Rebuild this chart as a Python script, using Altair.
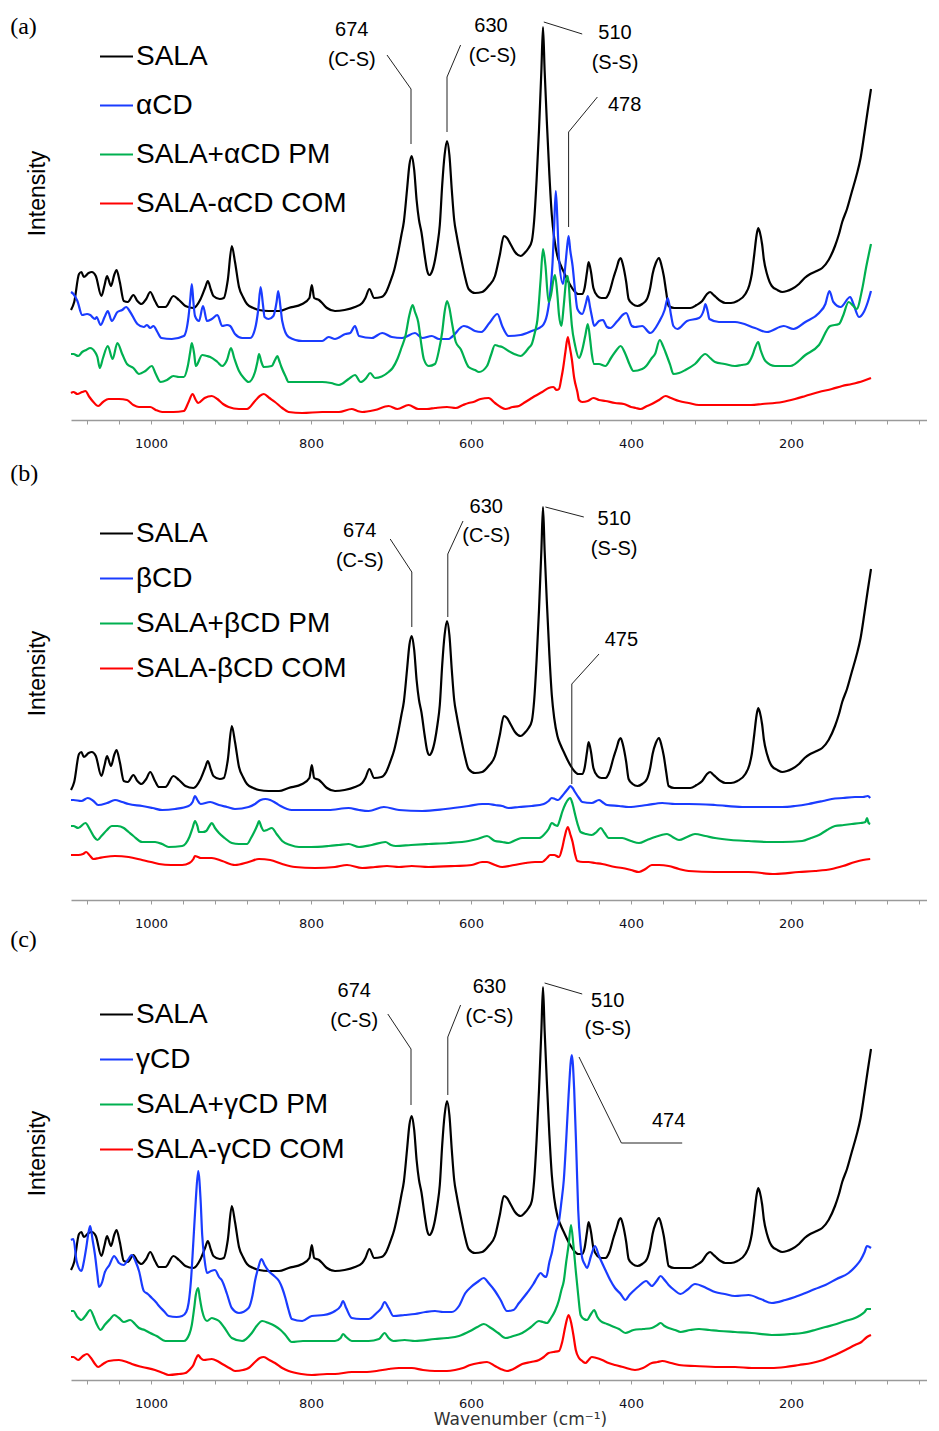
import altair as alt
import pandas as pd

# ---------------- data (wavenumber cm-1, intensity a.u.) ----------------
SALA = [(1100,110),(1096,118),(1090,146),(1087,148),(1084,143),(1078,147),(1074,148),(1069,144),(1062,124),(1058,135),
        (1055,144),(1050,134),(1046,145),(1043,150),(1039,138),(1034,119),(1029,118),(1022,125),(1017,119),(1012,116),
        (1006,121),(1001,128),(995,119),(990,113),(982,113),(972,124),(965,120),(957,114),(947,112),(938,121),(932,133),
        (929,139),(925,130),(922,124),(914,121),(909,122),(904,140),(899,174),(895,158),(890,133),(885,123),(880,116),
        (872,112),(865,110),(853,109),(840,109),(828,112),(811,116),(802,122),(799,135),(796,122),(790,120),(785,116),
        (780,112),(770,109),(758,110),(745,113),(736,117),(732,122),(727,131),(721,122),(712,123),(706,128),(701,138),
        (696,150),(691,168),(687,185),(684,198),(680,230),(677,255),(674,264),(671,250),(668,220),(665,200),(662,188),
        (658,165),(655,150),(652,145),(649,148),(645,160),(642,175),(639,195),(636,235),(633,265),(630,279),(627,265),
        (624,230),(621,200),(618,185),(612,160),(608,145),(603,131),(595,127),(586,128),(578,134),(570,144),(564,165),
        (559,184),(555,182),(550,175),(545,168),(538,164),(533,167),(528,172),(524,179),(521,200),(518,240),(515,290),
        (512,350),(510,393),(508,350),(505,295),(502,245),(499,205),(496,182),(492,164),(488,155),(484,148),(476,135),
        (471,129),(466,126),(461,126),(458,132),(455,148),(453,158),(450,148),(447,132),(442,124),(437,122),(432,122),
        (427,128),(422,142),(418,152),(415,160),(413,162),(410,155),(406,138),(403,121),(398,116),(392,114),(386,116),
        (380,121),(376,132),(373,146),(369,157),(365,162),(362,155),(359,144),(356,128),(353,114),(346,112),(340,112),
        (326,112),(318,115),(311,119),(305,126),(301,128),(298,126),(294,123),(288,119),(282,117),(275,117),(267,119),
        (257,126),(252,135),(249,146),(246,165),(243,185),(241,192),(239,188),(236,175),(234,161),(230,146),(224,134),
        (217,130),(211,128),(205,129),(199,131),(190,136),(183,142),(176,146),(168,149),(161,152),(153,160),(145,174),
        (140,186),(136,198),(130,211),(124,228),(118,245),(113,262),(108,288),(104,310),(100,331)]

ACD = [(1100,128),(1097,126),(1092,119),(1086,105),(1080,106),(1076,105),(1070,101),(1068,103),(1063,95),(1058,103),
       (1054,109),(1049,99),(1042,108),(1036,110),(1031,113),(1026,108),(1017,96),(1009,93),(1005,95),(1001,92),(997,94),
       (992,88),(987,82),(974,81),(959,84),(953,104),(951,120),(949,136),(947,118),(945,104),(940,99),(935,114),(930,99),
       (924,101),(917,105),(911,94),(905,95),(901,94),(895,86),(886,82),(876,82),(870,91),(866,110),(863,133),(860,115),
       (858,103),(853,101),(847,104),(843,118),(841,129),(838,112),(836,99),(828,83),(811,79),(786,79),(778,83),(770,81),
       (757,86),(751,87),(745,94),(740,84),(724,82),(711,87),(699,83),(686,82),(670,87),(661,82),(649,84),(640,81),
       (628,81),(624,83),(609,94),(604,93),(595,89),(587,88),(577,97),(567,106),(561,94),(553,84),(538,85),(524,89),
       (511,94),(505,105),(503,114),(500,135),(498,158),(496,195),(494,229),(492,200),(490,161),(485,136),(482,155),
       (480,172),(478,184),(476,170),(473,154),(470,130),(467,111),(461,106),(456,118),(454,124),(451,112),(449,104),
       (446,94),(440,99),(435,100),(430,93),(426,92),(417,99),(409,106),(406,107),(399,94),(395,93),(386,94),(376,87),
       (365,98),(358,110),(354,122),(350,105),(347,94),(342,91),(330,99),(315,102),(309,110),(307,116),(304,108),
       (302,101),(290,98),(270,98),(245,92),(230,88),(209,94),(197,91),(182,98),(165,107),(157,116),(152,129),(147,118),
       (138,113),(126,123),(122,116),(115,103),(109,108),(104,118),(100,129)]

APM = [(1100,66),(1097,66),(1091,64),(1086,68),(1081,70),(1076,72),(1070,68),(1067,63),(1064,52),(1060,62),(1054,74),
       (1048,61),(1042,77),(1036,66),(1030,56),(1022,52),(1015,46),(1007,49),(999,54),(994,46),(988,38),(980,40),(972,44),
       (965,43),(959,43),(954,54),(951,68),(949,77),(946,66),(944,54),(936,65),(930,64),(926,63),(917,58),(911,54),
       (905,60),(900,72),(896,62),(890,49),(884,42),(878,38),(870,48),(867,58),(865,66),(862,58),(859,53),(849,54),
       (845,60),(842,64),(840,60),(837,53),(832,44),(828,38),(811,38),(786,38),(775,37),(765,35),(753,41),(745,45),
       (738,38),(731,42),(726,47),(720,42),(703,48),(698,52),(692,61),(687,72),(682,84),(677,105),(673,115),(670,108),
       (666,98),(662,75),(659,61),(653,54),(645,56),(640,70),(636,88),(633,108),(630,119),(627,112),(624,98),(619,78),
       (613,71),(603,53),(595,50),(590,48),(580,54),(575,65),(570,75),(566,74),(561,73),(553,69),(546,66),(538,64),
       (533,67),(528,72),(524,76),(520,88),(517,100),(513,140),(510,171),(507,155),(503,118),(500,125),(497,140),
       (495,145),(492,125),(490,105),(487,94),(484,115),(481,140),(479,144),(476,115),(474,95),(470,75),(465,62),
       (461,70),(457,85),(454,96),(451,80),(449,66),(446,56),(440,56),(432,54),(425,62),(418,70),(413,74),(407,66),
       (402,56),(397,49),(386,51),(381,54),(374,62),(370,66),(364,80),(360,74),(357,68),(351,55),(347,46),(340,47),
       (332,50),(320,56),(307,66),(301,62),(295,58),(283,56),(270,54),(262,55),(255,56),(248,65),(245,72),(241,78),
       (238,70),(232,59),(220,54),(201,54),(182,65),(165,75),(151,94),(140,96),(135,104),(128,118),(122,114),(118,111),
       (111,131),(106,153),(100,176)]

ACOM = [(1100,27),(1097,28),(1092,26),(1086,28),(1082,29),(1077,23),(1072,18),(1066,14),(1060,18),(1053,21),(1040,21),
        (1030,20),(1022,15),(1015,13),(1001,13),(994,10),(986,8),(972,8),(959,9),(953,18),(948,26),(944,20),(941,17),
        (933,22),(924,24),(917,21),(910,16),(903,13),(890,11),(880,11),(870,19),(864,24),(859,26),(852,22),(845,18),
        (836,12),(828,8),(811,7),(786,8),(765,8),(749,11),(742,9),(736,8),(720,10),(703,14),(692,11),(678,15),(666,11),
        (655,11),(645,12),(630,13),(619,12),(610,15),(603,17),(597,18),(588,21),(578,22),(570,17),(563,13),(557,11),
        (548,13),(540,14),(532,18),(526,21),(520,24),(511,28),(503,32),(497,33),(493,30),(490,31),(487,42),(485,51),
        (482,68),(479,83),(477,75),(474,61),(471,42),(467,28),(465,20),(461,18),(454,19),(447,22),(440,20),(432,19),
        (420,17),(409,16),(400,13),(394,12),(388,11),(380,14),(374,16),(365,20),(357,24),(350,22),(340,19),(328,17),
        (315,15),(300,15),(274,15),(250,15),(236,16),(211,18),(195,21),(182,24),(165,28),(149,31),(136,34),(124,36),
        (110,39),(100,42)]

BCD = [(1100,100),(1097,100),(1087,99),(1079,102),(1072,99),(1066,95),(1055,97),(1045,100),(1036,98),(1028,96),(1011,94),
       (998,92),(986,90),(970,91),(953,94),(948,98),(945,104),(942,100),(938,96),(926,98),(915,95),(905,93),(895,91),
       (878,93),(870,96),(863,100),(857,101),(851,100),(844,97),(838,94),(824,90),(800,90),(778,90),(753,92),(740,90),
       (728,89),(709,93),(690,90),(661,89),(632,91),(603,94),(586,96),(578,96),(570,95),(561,94),(553,92),(540,93),
       (524,94),(509,96),(503,99),(499,102),(495,101),(491,100),(486,104),(482,108),(478,112),(476,114),(473,112),
       (470,108),(465,102),(461,98),(449,97),(440,100),(436,98),(430,95),(415,94),(403,93),(380,95),(361,97),(345,96),
       (328,96),(295,95),(261,93),(230,93),(211,93),(195,94),(178,96),(160,99),(149,101),(135,102),(120,103),(110,103),
       (104,104),(101,102)]

BPM = [(1100,74),(1097,74),(1091,72),(1082,77),(1076,70),(1071,63),(1067,60),(1062,64),(1055,70),(1049,74),(1042,74),
       (1034,72),(1028,68),(1022,64),(1011,58),(1003,58),(995,58),(986,56),(978,53),(961,54),(952,63),(948,72),(945,79),
       (942,74),(940,68),(935,68),(931,69),(927,74),(924,77),(920,72),(915,67),(908,62),(899,57),(890,56),(880,56),
       (875,62),(871,68),(867,75),(865,79),(862,73),(859,69),(855,70),(849,72),(843,66),(836,59),(826,55),(815,53),
       (800,53),(778,54),(765,55),(753,56),(740,53),(724,55),(707,58),(700,55),(694,54),(675,55),(653,56),(628,57),
       (603,59),(592,61),(580,64),(570,59),(561,58),(553,57),(544,60),(536,62),(525,62),(515,62),(508,66),(503,71),
       (499,77),(495,75),(492,74),(489,80),(486,88),(482,96),(478,101),(476,102),(473,96),(470,86),(466,74),(463,68),
       (456,66),(449,65),(443,68),(438,72),(433,67),(428,62),(420,62),(411,62),(400,59),(390,57),(380,60),(370,63),
       (362,65),(355,66),(348,63),(340,60),(330,63),(320,66),(307,64),(295,62),(275,60),(253,59),(230,58),(211,58),
       (186,59),(175,62),(165,65),(155,70),(145,74),(134,75),(124,76),(113,77),(107,78),(105,82),(103,77),(101,76)]

BCOM = [(1100,45),(1097,45),(1091,45),(1085,46),(1081,48),(1076,44),(1072,41),(1065,42),(1058,43),(1045,44),(1028,43),
        (1011,40),(1000,38),(990,36),(975,35),(961,35),(952,37),(947,41),(945,44),(941,43),(938,42),(924,42),(911,39),
        (895,35),(878,38),(865,41),(851,40),(836,36),(820,33),(795,32),(770,33),(755,35),(736,32),(720,33),(705,34),
        (690,33),(674,34),(653,33),(620,34),(599,35),(586,38),(580,38),(570,35),(561,33),(546,35),(532,37),(520,38),
        (511,38),(505,42),(501,45),(496,45),(490,43),(486,52),(483,63),(479,73),(476,66),(473,58),(470,46),(467,39),
        (460,38),(453,38),(445,37),(436,36),(420,33),(411,32),(400,30),(390,28),(382,31),(374,35),(365,35),(353,34),
        (340,31),(328,29),(295,28),(253,28),(220,26),(190,28),(170,29),(149,31),(135,34),(120,38),(110,40),(101,41)]

GCD = [(1100,140),(1097,141),(1093,119),(1087,109),(1084,118),(1081,132),(1078,148),(1076,154),(1073,140),(1070,125),
       (1067,105),(1065,93),(1061,98),(1058,107),(1052,115),(1046,124),(1043,121),(1040,117),(1034,115),(1029,120),
       (1024,125),(1019,118),(1015,109),(1009,89),(1004,86),(999,82),(994,78),(990,74),(984,69),(978,64),(968,63),
       (961,64),(956,68),(953,77),(950,100),(947,139),(944,180),(941,209),(938,180),(936,145),(933,120),(930,107),
       (925,109),(920,110),(915,103),(911,99),(905,86),(899,72),(890,67),(878,72),(873,85),(870,99),(866,112),(862,121),
       (858,115),(853,109),(846,104),(840,99),(836,92),(832,82),(828,70),(824,61),(811,59),(799,64),(784,65),(770,69),
       (763,74),(760,79),(756,72),(749,62),(738,61),(728,61),(718,67),(712,72),(708,78),(703,72),(697,64),(683,65),
       (670,66),(657,68),(645,69),(635,68),(624,68),(615,74),(607,87),(600,93),(592,98),(584,102),(578,97),(570,89),
       (563,80),(555,69),(547,70),(540,77),(530,87),(522,96),(517,103),(513,107),(509,104),(506,103),(502,118),(499,127),
       (494,148),(490,159),(487,178),(484,200),(481,240),(478,285),(474,325),(471,290),(468,220),(466,170),(463,135),
       (461,122),(458,116),(455,112),(450,124),(445,134),(440,124),(432,110),(426,100),(420,92),(413,86),(407,80),
       (402,85),(397,89),(390,94),(381,99),(377,96),(374,94),(368,99),(363,104),(358,100),(353,95),(346,90),(338,86),
       (330,90),(320,96),(306,92),(295,88),(283,86),(270,84),(253,85),(238,81),(224,77),(207,80),(195,83),(182,87),
       (170,91),(157,95),(143,101),(128,107),(120,113),(113,120),(108,128),(105,134),(100,132)]

GPM = [(1100,69),(1097,69),(1092,63),(1087,60),(1082,64),(1076,70),(1072,64),(1068,56),(1063,50),(1058,55),(1051,61),
       (1046,65),(1040,62),(1034,58),(1026,60),(1020,56),(1015,52),(1008,50),(1001,47),(993,44),(982,39),(970,39),
       (959,39),(952,46),(949,55),(946,72),(944,85),(941,92),(939,82),(936,69),(930,59),(924,62),(920,61),(915,59),
       (908,52),(899,42),(886,39),(874,47),(868,54),(861,59),(853,57),(845,54),(838,50),(832,45),(824,38),(810,39),
       (790,39),(770,39),(763,42),(760,46),(756,43),(749,39),(728,39),(715,41),(708,47),(703,42),(697,39),(683,40),
       (670,39),(645,41),(630,42),(615,44),(601,49),(592,53),(584,56),(575,52),(566,47),(557,42),(547,44),(536,47),
       (525,53),(515,59),(510,58),(505,57),(500,62),(495,69),(490,80),(487,90),(484,99),(481,118),(478,135),(475,155),
       (472,135),(469,109),(466,85),(463,65),(459,61),(455,60),(450,66),(446,70),(442,63),(438,59),(430,56),(424,54),
       (415,51),(407,47),(400,49),(397,50),(385,51),(374,52),(367,55),(363,57),(358,54),(353,52),(345,50),(338,48),
       (326,50),(315,51),(302,50),(290,49),(270,48),(249,47),(224,45),(200,46),(186,47),(170,50),(157,53),(143,56),
       (132,59),(120,62),(115,64),(108,68),(105,71),(100,71)]

GCOM = [(1100,23),(1097,23),(1091,20),(1085,24),(1080,26),(1075,22),(1070,16),(1066,13),(1060,16),(1053,19),(1040,20),
        (1030,18),(1024,16),(1011,13),(995,10),(985,7),(978,5),(965,6),(957,7),(951,11),(947,15),(944,21),(941,25),
        (938,22),(934,20),(924,21),(917,19),(911,16),(902,12),(895,9),(885,10),(878,12),(870,18),(864,22),(859,23),
        (852,20),(845,17),(836,12),(828,9),(812,6),(799,5),(780,6),(770,6),(749,8),(730,8),(718,9),(703,11),(690,12),
        (674,12),(660,10),(645,9),(630,9),(620,10),(610,12),(601,15),(590,17),(580,18),(570,14),(563,11),(555,9),
        (547,11),(536,16),(525,18),(515,20),(509,23),(503,27),(497,28),(490,29),(486,38),(482,54),(478,65),(475,58),
        (472,45),(469,30),(465,22),(461,19),(457,17),(453,20),(449,23),(443,22),(436,20),(428,17),(420,15),(410,13),
        (395,10),(385,12),(374,17),(367,18),(361,19),(350,17),(340,15),(320,14),(290,13),(270,13),(249,12),(225,12),
        (207,13),(190,15),(174,17),(160,20),(145,25),(132,30),(120,35),(112,38),(105,43),(100,45)]

NAMES_A = ["SALA", "αCD", "SALA+αCD PM", "SALA-αCD COM"]
NAMES_B = ["SALA", "βCD", "SALA+βCD PM", "SALA-βCD COM"]
NAMES_C = ["SALA", "γCD", "SALA+γCD PM", "SALA-γCD COM"]
COLORS = ["#000000", "#1a3cff", "#00b050", "#ff0000"]

# annotations: (wavenumber, intensity, text)
TXT_A = [(749, 390, "674"), (749, 360, "(C-S)"), (575, 394, "630"), (573, 364, "(C-S)"),
         (420, 387, "510"), (420, 357, "(S-S)"), (408, 315, "478")]
LINES_A = [[(705, 365), (675, 331), (675, 276)], [(613, 375), (630, 343), (630, 288)],
           [(509, 398), (461, 386)], [(442, 323), (478, 288), (478, 193)]]
TXT_B = [(739, 369, "674"), (739, 339, "(C-S)"), (581, 393, "630"), (581, 364, "(C-S)"),
         (421, 381, "510"), (421, 351, "(S-S)"), (412, 260, "475")]
LINES_B = [[(701, 361), (674, 328), (674, 273)], [(610, 379), (629, 346), (629, 283)],
           [(507, 393), (459, 383)], [(440, 246), (474, 216), (474, 116)]]
TXT_C = [(746, 389, "674"), (746, 359, "(C-S)"), (577, 393, "630"), (577, 363, "(C-S)"),
         (429, 379, "510"), (429, 351, "(S-S)"), (353, 259, "474")]
LINES_C = [[(704, 366), (675, 331), (675, 275)], [(613, 375), (629, 343), (629, 285)],
           [(508, 397), (461, 386)], [(465, 323), (412, 237), (336, 237)]]
LETTERS = [("(a)", 1176, 393), ("(b)", 1176, 426), ("(c)", 1176, 440)]

TICKS = list(range(1080, 30, -40))

XS = dict(domain=[30, 1100], reverse=True, nice=False, zero=False)
YS = dict(domain=[0, 410], nice=False, zero=False)


def panel(series, names, txt, lines, letter, legend_y, row_pad, xtitle):
    rows = []
    for k, (nm, pts) in enumerate(zip(names, series)):
        for w, v in pts:
            rows.append({"w": w, "v": v, "s": nm, "k": k})
    df = pd.DataFrame(rows)

    xa = dict(values=TICKS, format="d",
              labelExpr="datum.value % 200 === 0 ? datum.label : ''",
              tickSize=4, tickColor="#9a9a9a", domainColor="#9a9a9a", domainWidth=1.5,
              labelPadding=13, labelFont="DejaVu Sans", labelFontSize=13, labelColor="#10101c",
              labelOverlap=False, grid=False)
    if xtitle:
        xa.update(title=xtitle, titleFont="DejaVu Sans", titleFontSize=17, titleFontWeight="normal",
                  titleColor="#333333", titleX=449, titleY=39, titleAlign="center", titleBaseline="middle")
    else:
        xa.update(title=None)
    ya = dict(title="Intensity", domain=False, ticks=False, labels=False, grid=False,
              titleFont="Liberation Sans", titleFontSize=23, titleFontWeight="normal",
              titleColor="black", titleAngle=270, titleX=-34, titleY=183,
              titleAlign="center", titleBaseline="middle")

    def X():
        return alt.X("w:Q", scale=alt.Scale(**XS), axis=alt.Axis(**xa))

    def Y():
        return alt.Y("v:Q", scale=alt.Scale(**YS), axis=alt.Axis(**ya))

    spectra = alt.Chart(df).mark_line(strokeWidth=2.2, strokeJoin="round", interpolate="monotone").encode(
        x=X(), y=Y(),
        color=alt.Color("s:N", sort=names, scale=alt.Scale(domain=names, range=COLORS),
                        legend=alt.Legend(orient="none", legendX=28, legendY=legend_y, title=None,
                                          direction="vertical", symbolType="stroke", symbolSize=1089,
                                          symbolStrokeWidth=2, labelFont="Liberation Sans",
                                          labelFontSize=28, labelColor="black", labelLimit=600,
                                          rowPadding=row_pad, labelOffset=2, padding=0)),
        order=alt.Order("w:Q"),
    )

    tdf = pd.DataFrame([{"w": w, "v": v, "t": t} for w, v, t in txt])
    texts = alt.Chart(tdf).mark_text(font="Liberation Sans", fontSize=20, color="black",
                                     align="center", baseline="middle").encode(
        x=X(), y=Y(), text="t:N")

    lrows = []
    for i, ln in enumerate(lines):
        for j, (w, v) in enumerate(ln):
            lrows.append({"w": w, "v": v, "lid": i, "j": j})
    ldf = pd.DataFrame(lrows)
    leaders = alt.Chart(ldf).mark_line(color="#222222", strokeWidth=1).encode(
        x=X(), y=Y(), detail="lid:N", order="j:Q")

    ldf2 = pd.DataFrame([{"w": letter[1], "v": letter[2], "t": letter[0]}])
    lab = alt.Chart(ldf2).mark_text(font="Liberation Serif", fontSize=24, color="black",
                                    align="left", baseline="middle").encode(
        x=X(), y=Y(), text="t:N")

    return alt.layer(spectra, leaders, texts, lab).properties(width=856, height=410)


pa = panel([SALA, ACD, APM, ACOM], NAMES_A, TXT_A, LINES_A, LETTERS[0], 29, 17, None)
pb = panel([SALA, BCD, BPM, BCOM], NAMES_B, TXT_B, LINES_B, LETTERS[1], 26, 13, None)
pc = panel([SALA, GCD, GPM, GCOM], NAMES_C, TXT_C, LINES_C, LETTERS[2], 27, 13, "Wavenumber (cm⁻¹)")

chart = alt.vconcat(pa, pb, pc, spacing=70, bounds="flush").resolve_scale(
    color="independent"
).properties(
    padding={"top": 2, "left": 2, "right": 0, "bottom": 0},
    background="white",
).configure_view(stroke=None)

chart.save("out.html", embed_options={"renderer": "svg", "actions": False})
